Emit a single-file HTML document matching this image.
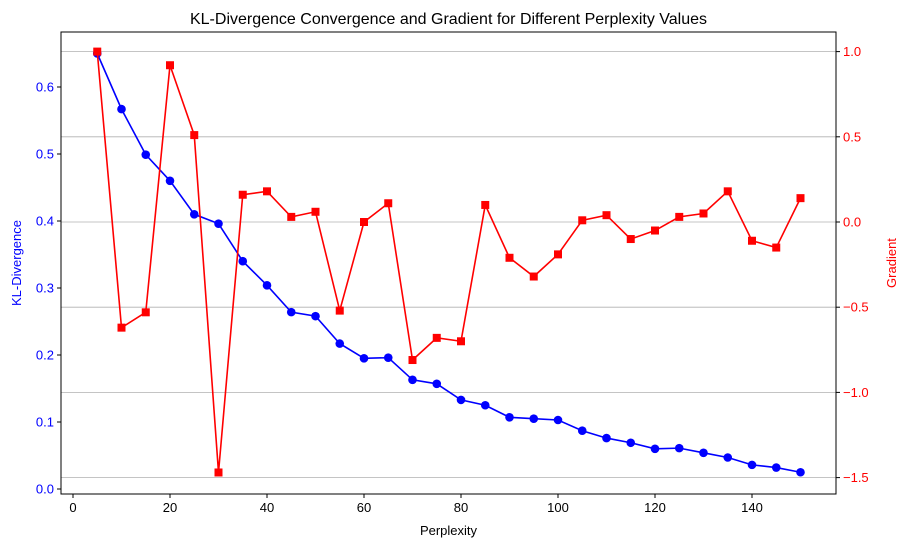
<!DOCTYPE html>
<html><head><meta charset="utf-8"><style>
body{margin:0;background:#fff;}
svg text{font-family:"Liberation Sans","DejaVu Sans",sans-serif;}
</style></head><body>
<svg id="chart" width="909" height="547" xmlns="http://www.w3.org/2000/svg"></svg>
<script>
const perplexity=[5,10,15,20,25,30,35,40,45,50,55,60,65,70,75,80,85,90,95,100,105,110,115,120,125,130,135,140,145,150];
const klValues=[0.65,0.567,0.499,0.46,0.41,0.396,0.34,0.304,0.264,0.258,0.217,0.195,0.196,0.163,0.157,0.133,0.125,0.107,0.105,0.103,0.087,0.076,0.069,0.060,0.061,0.054,0.047,0.036,0.032,0.025];
const gradValues=[1.0,-0.62,-0.53,0.92,0.51,-1.47,0.16,0.18,0.03,0.06,-0.52,0.0,0.11,-0.81,-0.68,-0.70,0.10,-0.21,-0.32,-0.19,0.01,0.04,-0.10,-0.05,0.03,0.05,0.18,-0.11,-0.15,0.14];
const xTicks=[0,20,40,60,80,100,120,140];
const leftTicks=[0.0,0.1,0.2,0.3,0.4,0.5,0.6];
const rightTicks=[1.0,0.5,0.0,-0.5,-1.0,-1.5];

const svg=document.getElementById('chart');
const NS='http://www.w3.org/2000/svg';
const L=61,R=836,T=32,B=494;
const xS=v=>73+v*(752-73)/140;
const yL=v=>489-v*(489-87)/0.6;
const yR=v=>222-v*170.4;
function mk(tag,attrs,parent){const e=document.createElementNS(NS,tag);for(const k in attrs)e.setAttribute(k,attrs[k]);(parent||svg).appendChild(e);return e;}
function txt(s,attrs){const e=mk('text',attrs);e.textContent=s;return e;}

// gridlines (right axis)
rightTicks.forEach(v=>{const g=mk('line',{x1:L,x2:R,y1:yR(v),y2:yR(v),stroke:'#b0b0b0','stroke-width':0.8});

});

// frame
const f=mk('rect',{x:L,y:T,width:R-L,height:B-T,fill:'none',stroke:'#000','stroke-width':1});



xTicks.forEach(v=>{mk('line',{x1:xS(v),x2:xS(v),y1:B,y2:B+4,stroke:'#000'});
const t=txt(v,{x:xS(v),y:B+18,'text-anchor':'middle','font-size':13});

});
leftTicks.forEach(v=>{mk('line',{x1:L-4,x2:L,y1:yL(v),y2:yL(v),stroke:'#000'});
const t=txt(v.toFixed(1),{x:L-7,y:yL(v)+4.5,'text-anchor':'end','font-size':13,fill:'blue'});

});
rightTicks.forEach(v=>{mk('line',{x1:R,x2:R+4,y1:yR(v),y2:yR(v),stroke:'#000'});
const t=txt(v<0?'\u2212'+Math.abs(v).toFixed(1):v.toFixed(1),{x:R+7,y:yR(v)+4.5,'font-size':13,fill:'red'});

});

// series
function series(vals,yf,color,marker,name){
  const pts=perplexity.map((p,i)=>xS(p)+','+yf(vals[i])).join(' ');
  const pl=mk('polyline',{points:pts,fill:'none',stroke:color,'stroke-width':1.6});
  
  
  perplexity.forEach((p,i)=>{let m;
    if(marker==='c')m=mk('circle',{cx:xS(p),cy:yf(vals[i]),r:4.3,fill:color});
    else m=mk('rect',{x:xS(p)-4,y:yf(vals[i])-4,width:8,height:8,fill:color});
    
    });
}
series(klValues,yL,'blue','c','kl');
series(gradValues,yR,'red','s','gradient');

let t=txt('KL-Divergence Convergence and Gradient for Different Perplexity Values',{x:(L+R)/2,y:24,'text-anchor':'middle','font-size':16});


t=txt('Perplexity',{x:(L+R)/2,y:535,'text-anchor':'middle','font-size':13});


t=txt('KL-Divergence',{x:0,y:0,'text-anchor':'middle','font-size':13,fill:'blue',transform:'translate(21,263) rotate(-90)'});


t=txt('Gradient',{x:0,y:0,'text-anchor':'middle','font-size':13,fill:'red',transform:'translate(896,263) rotate(-90)'});


</script>
</body></html>
